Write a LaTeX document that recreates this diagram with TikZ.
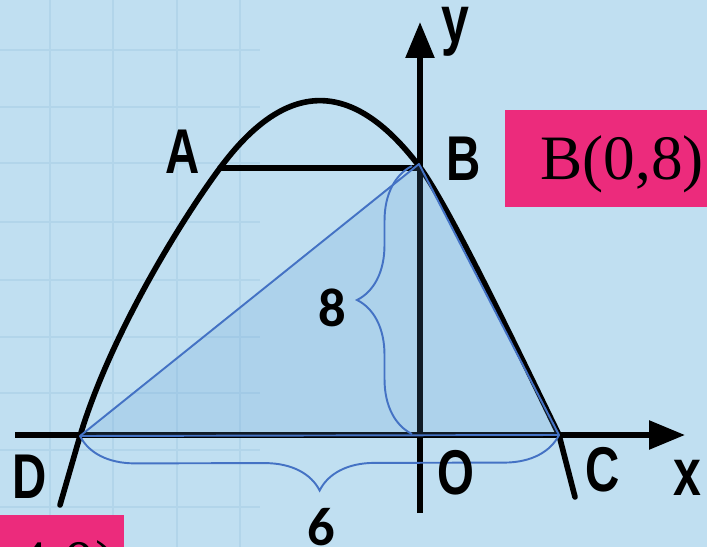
\documentclass[tikz,border=0pt]{standalone}
\usepackage{fontspec}
\setmainfont{Liberation Serif}
\newfontfamily\lblfont[FakeStretch=0.75]{Liberation Sans}
\newfontfamily\numfont{Carlito}
\usetikzlibrary{arrows.meta,decorations.pathreplacing}
\definecolor{paper}{RGB}{192,223,241}
\definecolor{gridline}{RGB}{178,213,234}
\definecolor{tri}{RGB}{68,114,196}
\definecolor{trifill}{RGB}{91,155,213}
\definecolor{pink}{RGB}{236,43,124}

\begin{document}
\begin{tikzpicture}[
  x=0.02cm,y=-0.02cm,
  curve/.style={line width=3.2pt,line cap=round,line join=round,black},
  axis/.style={line width=3.2pt,-{Triangle[length=0.72cm,width=0.56cm]}},
  side/.style={draw=tri,line width=1.1pt,line join=round},
  brc/.style={draw=tri,line width=1.1pt,decorate,decoration={brace,amplitude=1.1cm}},
  pt/.style={font=\lblfont\bfseries\fontsize{36}{36}\selectfont,inner sep=0pt},
  ptlow/.style={font=\lblfont\bfseries\fontsize{38}{38}\selectfont,inner sep=0pt},
  num/.style={font=\numfont\bfseries\fontsize{31}{31}\selectfont,inner sep=0pt},
  pinkbox/.style={fill=pink,font=\fontsize{36}{36}\selectfont,minimum height=1.94cm,
    inner ysep=0pt,text height=24pt,text depth=0pt}
]
\clip (0,0) rectangle (707,547);
\fill[paper] (0,0) rectangle (707,547);
\foreach \gx in {50,113,177,240}
  \draw[gridline,line width=0.8pt] (\gx,0) -- (\gx,547);
\foreach \gy in {50,107,163,222,280,337,393,450,507}
  \draw[gridline,line width=0.8pt] (0,\gy) -- (260,\gy);

\coordinate (D) at (80,436);
\coordinate (B) at (419,164);
\coordinate (C) at (559,435);
\coordinate (A) at (220,168);
\coordinate (xs) at (15,435);
\coordinate (xe) at (685,435);
\coordinate (ys) at (420,513);
\coordinate (ye) at (420,22);
\coordinate (h8) at (412,434);
\coordinate (t8) at (412,166);
\coordinate (Dlow) at (60,505);
\coordinate (Clow) at (575,497);

\draw[curve] (Dlow) -- (D) .. controls (110,336) and (180,222) .. (A)
  .. controls (286,79) and (352,78) .. (419,166)
  .. controls (449,206) and (520,355) .. (C) -- (Clow);
\draw[curve] (A) -- (A -| ye);
\draw[axis] (xs) -- (xe);
\draw[axis] (ys) -- (ye);

\path[side,fill=trifill,fill opacity=0.18] (D) -- (B) -- (C) -- cycle;
\draw[brc] (C) -- (D);
\draw[brc] (h8) -- (t8);

\node[pt] (lA) at (183,152) {A};
\node[pt] (lB) at (464,159) {B};
\node[pt] (lD) at (30,477) {D};
\node[pt] (lO) at (456,473) {O};
\node[pt] (lC) at (603,470) {C};
\node[ptlow] (lx) at (687,478) {x};
\node[ptlow] (ly) at (455,32) {y};
\node[num] (n8) at (332,308) {8};
\node[num] (n6) at (321,527) {6};

\node[pinkbox,anchor=west,inner xsep=0.7cm] (pB) at (505,158.5) {B(0,8)};
\node[pinkbox,anchor=north east,inner xsep=0.14cm] (pD) at (124,515) {D(-4,0)};
\end{tikzpicture}
\end{document}
